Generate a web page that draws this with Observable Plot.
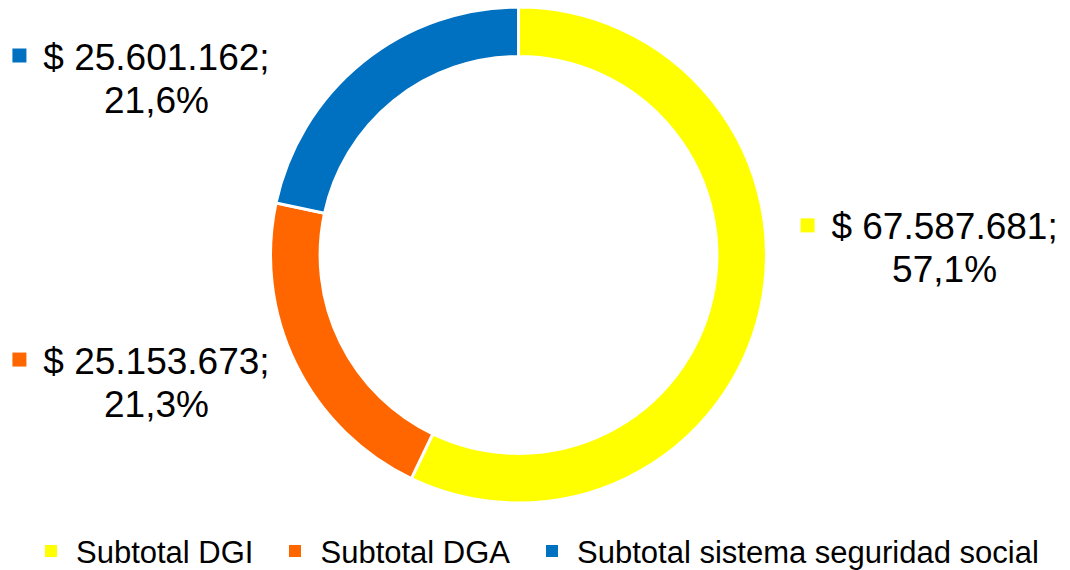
<!DOCTYPE html>
<html><head><meta charset="utf-8">
<script src="https://cdn.jsdelivr.net/npm/d3@7"></script>
<script src="https://cdn.jsdelivr.net/npm/@observablehq/plot@0.6"></script>
<style>
body{margin:0;background:#fff;font-family:"Liberation Sans",Arial,sans-serif;}
#chart{position:relative;width:1070px;height:570px;overflow:hidden;}
#chart svg{display:block;}
.legend{position:absolute;left:45px;top:535px;height:36px;display:flex;align-items:center;font-size:31px;line-height:36px;color:#000;white-space:nowrap;}
.legend .item{display:flex;align-items:center;margin-right:36px;}
.legend .sw{width:12px;height:12px;margin-right:19px;position:relative;top:-2px;}
</style></head>
<body><div id="chart"></div>
<script>
const categories = ["Subtotal DGI", "Subtotal DGA", "Subtotal sistema seguridad social"];
const amounts = [67587681, 25153673, 25601162];
const amountLabels = ["$ 67.587.681;", "$ 25.153.673;", "$ 25.601.162;"];
const colors = ["#FFFF00", "#FF6600", "#0070C0"];

const total = d3.sum(amounts);
const percentLabels = amounts.map(v => (v / total * 100).toFixed(1).replace(".", ",") + "%");
const rows = categories.map((c, i) => ({category: c, value: amounts[i], line1: amountLabels[i], line2: percentLabels[i]}));

// layout (label anchor positions in ring-radius units)
const cx = 518.5, cy = 255, R = 248, holeRatio = 0.8;
const labelAnchor = {
  "Subtotal DGI": [1.716, 0.065],
  "Subtotal DGA": [-1.462, -0.476],
  "Subtotal sistema seguridad social": [-1.462, 0.75]
};
const labelRows = rows.map(r => ({...r, lx: labelAnchor[r.category][0], ly: labelAnchor[r.category][1]}));

const arcs = d3.pie().sort(null).value(d => d.value)(rows);

const donut = (index, scales) => {
  const x0 = scales.x(0), y0 = scales.y(0), rr = scales.x(1) - scales.x(0);
  const arc = d3.arc().innerRadius(rr * holeRatio).outerRadius(rr);
  const g = d3.create("svg:g").attr("transform", `translate(${x0},${y0})`);
  g.selectAll("path").data(arcs).join("path")
    .attr("d", arc)
    .attr("fill", d => scales.color(d.data.category))
    .attr("stroke", "#fff")
    .attr("stroke-width", 3)
    .attr("stroke-linejoin", "miter");
  return g.node();
};

const plot = Plot.plot({
  width: 1070,
  height: 525,
  margin: 0,
  style: {fontFamily: '"Liberation Sans", Arial, sans-serif', background: "#fff"},
  x: {domain: [-1, 1], range: [cx - R, cx + R], axis: null},
  y: {domain: [-1, 1], range: [cy + R, cy - R], axis: null},
  color: {domain: categories, range: colors},
  marks: [
    donut,
    Plot.dot(labelRows, {x: "lx", y: "ly", fill: "category", symbol: "square", r: 7.9, dx: -137, dy: -14, stroke: null}),
    Plot.text(labelRows, {x: "lx", y: "ly", text: "line1", fontSize: 37, lineAnchor: "bottom", textAnchor: "middle", fill: "#000"}),
    Plot.text(labelRows, {x: "lx", y: "ly", text: "line2", fontSize: 37, lineAnchor: "bottom", textAnchor: "middle", dy: 43, fill: "#000"})
  ]
});

const chart = document.getElementById("chart");
chart.appendChild(plot);

const legend = document.createElement("div");
legend.className = "legend";
categories.forEach((c, i) => {
  const item = document.createElement("div");
  item.className = "item";
  const sw = document.createElement("span");
  sw.className = "sw";
  sw.style.background = colors[i];
  const t = document.createElement("span");
  t.textContent = c;
  item.appendChild(sw); item.appendChild(t);
  legend.appendChild(item);
});
chart.appendChild(legend);
</script>
</body></html>
